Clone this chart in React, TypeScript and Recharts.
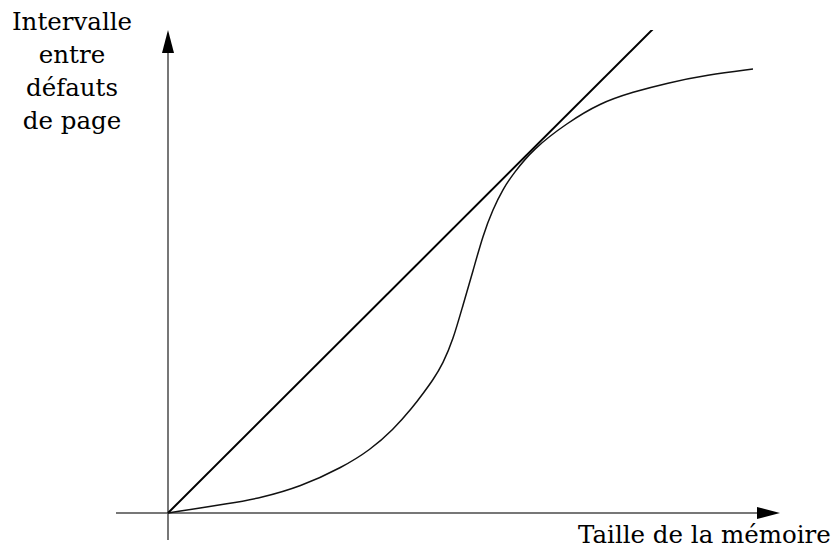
import { LineChart, Line, XAxis, YAxis, ReferenceLine } from 'recharts';

// diagonal reference line (x, y)
const lineX = [0, 97];
const lineY = [0, 96.8];

// S-shaped curve (memory size vs interval between page faults)
const curveX = [0, 13, 18.4, 26.4, 35, 40.4, 45, 49, 51, 53, 55, 57, 59, 61, 63, 65, 67, 69, 73, 79.8, 86.4, 93, 99.8, 107.8, 117];
const curveY = [0, 2, 3, 5.2, 9.2, 12.6, 16.6, 21.2, 23.9, 26.6, 29.9, 34.6, 41.6, 48.4, 55.6, 60.8, 64.8, 67.8, 72.8, 78, 82, 84.2, 86, 87.6, 88.8];

const yLabelLines = ['Intervalle', 'entre', 'défauts', 'de page'];
const xLabel = 'Taille de la mémoire';

const lineData = lineX.map((x, i) => ({ x, y: lineY[i] }));
const curveData = curveX.map((x, i) => ({ x, y: curveY[i] }));

const AXIS_COLOR = '#4a4a4a';
const FONT = '"DejaVu Serif", "Liberation Serif", serif';

function VerticalArrow(props: any) {
  const { x1, y1, y2 } = props;
  const top = Math.min(y1, y2);
  const bottom = Math.max(y1, y2);
  return (
    <g>
      <line x1={x1} y1={bottom} x2={x1} y2={top + 10} stroke={AXIS_COLOR} strokeWidth={1.5} />
      <polygon points={`${x1},${top} ${x1 - 6},${top + 23} ${x1 + 6},${top + 23}`} fill="#000" />
    </g>
  );
}

function HorizontalArrow(props: any) {
  const { x1, y1, x2 } = props;
  const left = Math.min(x1, x2);
  const right = Math.max(x1, x2);
  return (
    <g>
      <line x1={left} y1={y1} x2={right - 10} y2={y1} stroke={AXIS_COLOR} strokeWidth={1.5} />
      <polygon points={`${right},${y1} ${right - 23},${y1 - 6} ${right - 23},${y1 + 6}`} fill="#000" />
    </g>
  );
}

export default function App() {
  return (
    <div style={{ position: 'absolute', left: 0, top: 0, width: 837, height: 557, background: '#fff' }}>
      <LineChart width={837} height={557} margin={{ top: 30, right: 57, bottom: 17, left: 116 }}>
        <XAxis type="number" dataKey="x" domain={[-10.4, 122.4]} hide allowDataOverflow />
        <YAxis type="number" dataKey="y" domain={[-5.4, 96.6]} hide allowDataOverflow />
        <ReferenceLine x={0} shape={VerticalArrow} />
        <ReferenceLine y={0} shape={HorizontalArrow} />
        <Line
          data={lineData}
          dataKey="y"
          type="linear"
          stroke="#000"
          strokeWidth={2}
          dot={false}
          isAnimationActive={false}
        />
        <Line
          data={curveData}
          dataKey="y"
          type="basis"
          stroke="#111"
          strokeWidth={1.5}
          dot={false}
          isAnimationActive={false}
        />
      </LineChart>
      <div
        style={{
          position: 'absolute',
          left: 2,
          top: 5,
          width: 140,
          textAlign: 'center',
          fontFamily: FONT,
          fontSize: 24.5,
          lineHeight: '33px',
          color: '#000',
        }}
      >
        {yLabelLines.map((t) => (
          <div key={t}>{t}</div>
        ))}
      </div>
      <div
        style={{
          position: 'absolute',
          left: 578,
          top: 520,
          fontFamily: FONT,
          fontSize: 24.5,
          lineHeight: '30px',
          color: '#000',
          whiteSpace: 'nowrap',
        }}
      >
        {xLabel}
      </div>
    </div>
  );
}
